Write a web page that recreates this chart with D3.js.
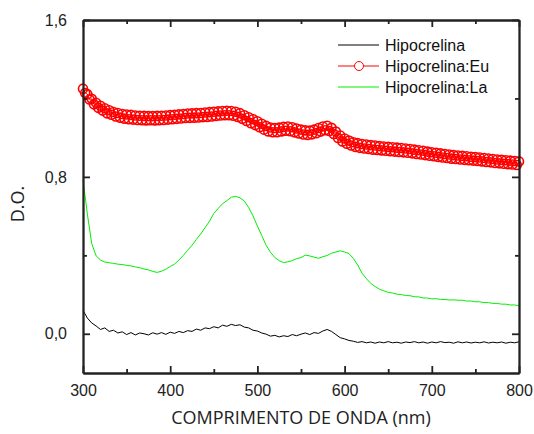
<!doctype html>
<html>
<head>
<meta charset="utf-8">
<style>
  body { margin: 0; background: #fff; }
  .tick text { font-family: "Liberation Sans", Arial, sans-serif; font-size: 16px; fill: #222; }
  .axis path, .axis line { stroke: #222; }
</style>
<script src="https://d3js.org/d3.v7.min.js"></script>
</head>
<body>
<svg width="534" height="434"></svg>
<script>
// wavelength grid, every 5 nm from 300 to 800
var wavelengths = d3.range(300, 801, 5);
// the Eu spectrum is sampled more densely (every 2.5 nm)
var wavelengthsEu = d3.range(0, 201).map(function(i) { return 300 + i * 2.5; });

var hipocrelina = [
  0.120, 0.080, 0.055, 0.040, 0.022, 0.030, 0.012, 0.018, 0.004, 0.010,
  -0.004, 0.006, -0.006, 0.004, 0.000, -0.006, 0.005, -0.002, 0.006, -0.003,
  0.008, 0.002, 0.012, 0.006, 0.016, 0.012, 0.024, 0.018, 0.030, 0.026,
  0.036, 0.030, 0.044, 0.038, 0.048, 0.042, 0.046, 0.034, 0.030, 0.018,
  0.014, 0.004, -0.002, -0.012, -0.008, -0.016, -0.010, -0.014, -0.004, -0.010,
  -0.002, 0.004, -0.004, 0.006, 0.002, 0.014, 0.022, 0.012, -0.004, -0.020,
  -0.026, -0.034, -0.038, -0.044, -0.040, -0.046, -0.042, -0.048, -0.042, -0.046,
  -0.040, -0.046, -0.043, -0.048, -0.042, -0.045, -0.040, -0.046, -0.042, -0.048,
  -0.042, -0.046, -0.040, -0.045, -0.043, -0.048, -0.041, -0.046, -0.042, -0.047,
  -0.043, -0.046, -0.041, -0.047, -0.043, -0.046, -0.042, -0.048, -0.043, -0.046,
  -0.041
];

var hipocrelinaEu = [
  1.250, 1.228, 1.222, 1.195, 1.198, 1.170, 1.178, 1.152, 1.163, 1.138,
  1.150, 1.124, 1.140, 1.117, 1.131, 1.108, 1.126, 1.102, 1.121, 1.097,
  1.118, 1.094, 1.116, 1.092, 1.113, 1.090, 1.112, 1.089, 1.111, 1.088,
  1.110, 1.089, 1.110, 1.088, 1.111, 1.089, 1.112, 1.090, 1.113, 1.092,
  1.115, 1.094, 1.117, 1.096, 1.119, 1.098, 1.121, 1.100, 1.123, 1.101,
  1.124, 1.102, 1.125, 1.103, 1.126, 1.105, 1.128, 1.106, 1.130, 1.108,
  1.132, 1.111, 1.134, 1.113, 1.136, 1.114, 1.137, 1.114, 1.136, 1.112,
  1.132, 1.106, 1.125, 1.096, 1.114, 1.085, 1.104, 1.074, 1.094, 1.064,
  1.084, 1.053, 1.071, 1.041, 1.060, 1.032, 1.052, 1.028, 1.049, 1.028,
  1.051, 1.032, 1.055, 1.035, 1.057, 1.033, 1.053, 1.027, 1.047, 1.021,
  1.041, 1.016, 1.037, 1.014, 1.036, 1.017, 1.041, 1.023, 1.049, 1.031,
  1.057, 1.038, 1.061, 1.034, 1.050, 1.019, 1.031, 0.998, 1.011, 0.981,
  0.996, 0.969, 0.985, 0.960, 0.977, 0.953, 0.972, 0.948, 0.968, 0.945,
  0.965, 0.942, 0.962, 0.939, 0.960, 0.937, 0.957, 0.935, 0.955, 0.933,
  0.953, 0.931, 0.951, 0.929, 0.949, 0.927, 0.947, 0.925, 0.945, 0.923,
  0.942, 0.920, 0.939, 0.917, 0.936, 0.914, 0.933, 0.911, 0.929, 0.908,
  0.926, 0.905, 0.923, 0.902, 0.920, 0.899, 0.917, 0.896, 0.914, 0.893,
  0.911, 0.891, 0.909, 0.889, 0.907, 0.887, 0.905, 0.885, 0.903, 0.883,
  0.901, 0.881, 0.899, 0.879, 0.896, 0.876, 0.894, 0.874, 0.891, 0.871,
  0.889, 0.869, 0.887, 0.867, 0.885, 0.865, 0.883, 0.863, 0.881, 0.861,
  0.879
];

var hipocrelinaLa = [
  0.785, 0.610, 0.460, 0.398, 0.376, 0.366, 0.362, 0.359, 0.355, 0.353,
  0.349, 0.346, 0.341, 0.337, 0.330, 0.326, 0.318, 0.313, 0.319, 0.329,
  0.343, 0.355, 0.376, 0.399, 0.426, 0.451, 0.481, 0.509, 0.541, 0.574,
  0.613, 0.639, 0.663, 0.679, 0.696, 0.701, 0.693, 0.677, 0.644, 0.601,
  0.549, 0.501, 0.451, 0.416, 0.389, 0.373, 0.363, 0.367, 0.373, 0.383,
  0.389, 0.401, 0.397, 0.391, 0.385, 0.393, 0.399, 0.411, 0.417, 0.423,
  0.417, 0.409, 0.384, 0.351, 0.309, 0.281, 0.257, 0.241, 0.227, 0.219,
  0.211, 0.208, 0.202, 0.200, 0.195, 0.194, 0.189, 0.188, 0.183, 0.182,
  0.178, 0.179, 0.175, 0.175, 0.172, 0.173, 0.171, 0.171, 0.167, 0.167,
  0.163, 0.163, 0.159, 0.159, 0.155, 0.155, 0.151, 0.151, 0.147, 0.147,
  0.143
];

var seriesNames = ["Hipocrelina", "Hipocrelina:Eu", "Hipocrelina:La"];
var seriesColors = ["#000000", "#ff0000", "#00f000"];
var xTicks = [300, 400, 500, 600, 700, 800];
var xMinor = [350, 450, 550, 650, 750];
var yTicks = [0, 0.8, 1.6];
var yMinor = [0.4, 1.2];

var svg = d3.select("svg");
var pLeft = 83, pRight = 519, pTop = 20, pBottom = 373;

var x = d3.scaleLinear().domain([300, 800]).range([pLeft, pRight]);
var y = d3.scaleLinear().domain([-0.2, 1.6]).range([pBottom, pTop]);

var fmt = function(d) { return d3.format(".1f")(d).replace(".", ","); };

// curves
var line = d3.line()
  .x(function(d) { return x(d[0]); })
  .y(function(d) { return y(d[1]); });

function pair(ws, vals) {
  return ws.map(function(w, i) { return [w, vals[i]]; });
}
var allSeries = [
  pair(wavelengths, hipocrelina),
  pair(wavelengthsEu, hipocrelinaEu),
  pair(wavelengths, hipocrelinaLa)
];

allSeries.forEach(function(pts, k) {
  svg.append("path")
    .datum(pts)
    .attr("fill", "none")
    .attr("stroke", seriesColors[k])
    .attr("stroke-width", 1)
    .attr("d", line);
});

svg.append("g").selectAll("circle")
  .data(allSeries[1])
  .enter().append("circle")
  .attr("cx", function(d) { return x(d[0]); })
  .attr("cy", function(d) { return y(d[1]); })
  .attr("r", 4.5)
  .attr("fill", "none")
  .attr("stroke", "#ff0000")
  .attr("stroke-width", 1.6);

// axes, ticks pointing in, mirrored on top/right
function addAxis(axis, tr, showLabels) {
  var g = svg.append("g").attr("class", "axis").attr("transform", tr).call(axis);
  g.selectAll("path, line").attr("stroke-width", 1.8);
  if (!showLabels) g.selectAll("text").remove();
  return g;
}

addAxis(d3.axisBottom(x).tickValues(xTicks).tickSize(-7).tickSizeOuter(0).tickPadding(12),
  "translate(0," + pBottom + ")", true);
addAxis(d3.axisBottom(x).tickValues(xMinor).tickSize(-4).tickSizeOuter(0), "translate(0," + pBottom + ")", false);
addAxis(d3.axisTop(x).tickValues(xTicks).tickSize(-7).tickSizeOuter(0), "translate(0," + pTop + ")", false);
addAxis(d3.axisTop(x).tickValues(xMinor).tickSize(-4).tickSizeOuter(0), "translate(0," + pTop + ")", false);

addAxis(d3.axisLeft(y).tickValues(yTicks).tickFormat(fmt).tickSize(-7).tickSizeOuter(0).tickPadding(16),
  "translate(" + pLeft + ",0)", true);
addAxis(d3.axisLeft(y).tickValues(yMinor).tickSize(-4).tickSizeOuter(0), "translate(" + pLeft + ",0)", false);
addAxis(d3.axisRight(y).tickValues(yTicks).tickSize(-7).tickSizeOuter(0), "translate(" + pRight + ",0)", false);
addAxis(d3.axisRight(y).tickValues(yMinor).tickSize(-4).tickSizeOuter(0), "translate(" + pRight + ",0)", false);

// axis titles
svg.append("text")
  .attr("x", (pLeft + pRight) / 2)
  .attr("y", 424)
  .attr("text-anchor", "middle")
  .attr("font-family", "'Open Sans', sans-serif")
  .attr("font-size", "18px")
  .attr("fill", "#222")
  .text("COMPRIMENTO DE ONDA (nm)");

svg.append("text")
  .attr("transform", "translate(24,204) rotate(-90)")
  .attr("text-anchor", "middle")
  .attr("font-family", "'Open Sans', sans-serif")
  .attr("font-size", "18px")
  .attr("fill", "#222")
  .text("D.O.");

// legend
var legend = svg.append("g").attr("transform", "translate(338,45)");
seriesNames.forEach(function(name, i) {
  var row = legend.append("g").attr("transform", "translate(0," + i * 21 + ")");
  row.append("line")
    .attr("x1", 0).attr("x2", 41)
    .attr("stroke", seriesColors[i])
    .attr("stroke-width", 1);
  if (i === 1) {
    row.append("circle").attr("cx", 21).attr("r", 4.5)
      .attr("fill", "#fff").attr("stroke", "#ff0000").attr("stroke-width", 1);
  }
  row.append("text")
    .attr("x", 47).attr("y", 6)
    .attr("font-family", "'Liberation Sans', Arial, sans-serif")
    .attr("font-size", "16px")
    .attr("fill", "#111")
    .text(name);
});
</script>
</body>
</html>
